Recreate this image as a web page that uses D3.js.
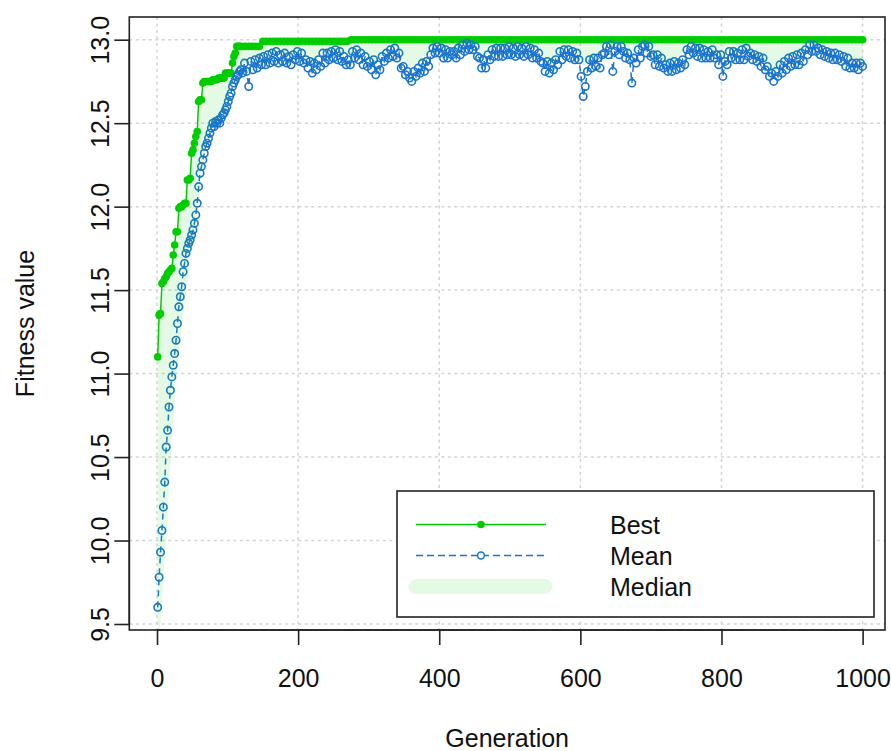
<!DOCTYPE html>
<html>
<head>
<meta charset="utf-8">
<script src="https://cdn.jsdelivr.net/npm/d3@7"></script>
<style>
  body { margin: 0; background: #fff; }
  svg { display: block; }
  text { font-family: "Liberation Sans", Arial, sans-serif; fill: #111; }
</style>
</head>
<body>
<svg id="chart" width="891" height="751"></svg>
<script>
// generations for best / median: every 2nd up to 119, then every 5th
const gens = d3.range(1, 120, 2).concat(d3.range(125, 1001, 5))
// generations for mean: every 2nd up to 119, then every 3rd
const meanGens = d3.range(1, 120, 2).concat(d3.range(121, 1001, 3))

const best = [
  11.10, 11.35, 11.36, 11.54, 11.55, 11.57, 11.58, 11.60, 11.61, 11.62,
  11.63, 11.71, 11.77, 11.85, 11.85, 11.99, 12.00, 12.00, 12.01, 12.02,
  12.02, 12.16, 12.16, 12.17, 12.32, 12.34, 12.38, 12.42, 12.45, 12.63,
  12.64, 12.64, 12.74, 12.75, 12.75, 12.75, 12.75, 12.75, 12.75, 12.76,
  12.76, 12.76, 12.76, 12.77, 12.77, 12.77, 12.77, 12.77, 12.80, 12.80,
  12.80, 12.80, 12.80, 12.86, 12.90, 12.92, 12.96, 12.96, 12.96, 12.96,
  // 125 .. 1000
  12.96, 12.96, 12.96, 12.96, 12.96, 12.99, 12.99, 12.99, 12.99, 12.99,
  12.99, 12.99, 12.99, 12.99, 12.99, 12.99, 12.99, 12.99, 12.99, 12.99,
  12.99, 12.99, 12.99, 12.99, 12.99, 12.99, 12.99, 12.99, 12.99, 12.99,
  13, 13, 13, 13, 13, 13, 13, 13, 13, 13,
  13, 13, 13, 13, 13, 13, 13, 13, 13, 13,
  13, 13, 13, 13, 13, 13, 13, 13, 13, 13,
  13, 13, 13, 13, 13, 13, 13, 13, 13, 13,
  13, 13, 13, 13, 13, 13, 13, 13, 13, 13,
  13, 13, 13, 13, 13, 13, 13, 13, 13, 13,
  13, 13, 13, 13, 13, 13, 13, 13, 13, 13,
  13, 13, 13, 13, 13, 13, 13, 13, 13, 13,
  13, 13, 13, 13, 13, 13, 13, 13, 13, 13,
  13, 13, 13, 13, 13, 13, 13, 13, 13, 13,
  13, 13, 13, 13, 13, 13, 13, 13, 13, 13,
  13, 13, 13, 13, 13, 13, 13, 13, 13, 13,
  13, 13, 13, 13, 13, 13, 13, 13, 13, 13,
  13, 13, 13, 13, 13, 13, 13, 13, 13, 13,
  13, 13, 13, 13, 13, 13
]

const mean = [
  9.60, 9.78, 9.93, 10.06, 10.20, 10.35, 10.56, 10.66, 10.80, 10.90,
  10.98, 11.05, 11.12, 11.20, 11.30, 11.40, 11.46, 11.52, 11.61, 11.66,
  11.72, 11.75, 11.78, 11.80, 11.83, 11.86, 11.90, 11.95, 12.02, 12.12,
  12.20, 12.24, 12.28, 12.32, 12.36, 12.38, 12.41, 12.44, 12.47, 12.50,
  12.48, 12.51, 12.50, 12.52, 12.50, 12.53, 12.55, 12.56, 12.58, 12.60,
  12.63, 12.66, 12.68, 12.72, 12.74, 12.76, 12.78, 12.79, 12.81, 12.82,
  // 121 .. 1000, every 3rd
  12.80, 12.86, 12.81, 12.72, 12.87, 12.82, 12.88, 12.83, 12.89, 12.85,
  12.90, 12.85, 12.91, 12.86, 12.92, 12.87, 12.93, 12.86, 12.91, 12.87,
  12.92, 12.86, 12.90, 12.85, 12.91, 12.88, 12.93, 12.87, 12.92, 12.86,
  12.88, 12.83, 12.87, 12.80, 12.86, 12.82, 12.88, 12.84, 12.92, 12.86,
  12.92, 12.88, 12.93, 12.89, 12.94, 12.88, 12.93, 12.87, 12.90, 12.85,
  12.88, 12.85, 12.93, 12.89, 12.94, 12.88, 12.92, 12.85, 12.90, 12.84,
  12.87, 12.82, 12.88, 12.79, 12.85, 12.82, 12.90, 12.87, 12.92, 12.89,
  12.94, 12.90, 12.95, 12.89, 12.92, 12.83, 12.84, 12.79, 12.81, 12.77,
  12.75, 12.81, 12.78, 12.83, 12.80, 12.86, 12.81, 12.87, 12.84, 12.91,
  12.95, 12.92, 12.96, 12.92, 12.95, 12.89, 12.94, 12.89, 12.93, 12.91,
  12.93, 12.89, 12.95, 12.91, 12.97, 12.93, 12.98, 12.94, 12.97, 12.94,
  12.96, 12.90, 12.89, 12.83, 12.88, 12.83, 12.91, 12.88, 12.94, 12.90,
  12.95, 12.90, 12.95, 12.90, 12.95, 12.91, 12.96, 12.91, 12.95, 12.90,
  12.96, 12.91, 12.95, 12.90, 12.96, 12.91, 12.95, 12.89, 12.94, 12.89,
  12.92, 12.87, 12.86, 12.81, 12.87, 12.80, 12.86, 12.82, 12.88, 12.85,
  12.93, 12.88, 12.94, 12.90, 12.94, 12.89, 12.93, 12.88, 12.92, 12.88,
  12.78, 12.66, 12.72, 12.81, 12.88, 12.83, 12.89, 12.84, 12.89, 12.83,
  12.91, 12.92, 12.96, 12.91, 12.97, 12.81, 12.93, 12.96, 12.91, 12.96,
  12.93, 12.89, 12.92, 12.88, 12.74, 12.89, 12.86, 12.94, 12.89, 12.96,
  12.97, 12.92, 12.96, 12.90, 12.91, 12.85, 12.91, 12.84, 12.89, 12.83,
  12.85, 12.81, 12.86, 12.81, 12.87, 12.82, 12.86, 12.83, 12.88, 12.85,
  12.94, 12.91, 12.96, 12.92, 12.95, 12.90, 12.95, 12.89, 12.94, 12.89,
  12.93, 12.89, 12.94, 12.89, 12.91, 12.85, 12.91, 12.78, 12.87, 12.85,
  12.93, 12.89, 12.93, 12.88, 12.92, 12.88, 12.94, 12.88, 12.95, 12.90,
  12.92, 12.88, 12.91, 12.87, 12.90, 12.84, 12.89, 12.82, 12.84, 12.78,
  12.80, 12.75, 12.81, 12.78, 12.85, 12.80, 12.87, 12.82, 12.89, 12.84,
  12.90, 12.85, 12.91, 12.85, 12.92, 12.87, 12.94, 12.91, 12.97, 12.93,
  12.97, 12.93, 12.95, 12.91, 12.94, 12.90, 12.93, 12.89, 12.92, 12.88,
  12.92, 12.88, 12.91, 12.87, 12.90, 12.84, 12.89, 12.83, 12.86, 12.83,
  12.86, 12.82, 12.86, 12.84
]

const median = [
  9.20, 9.35, 9.50, 9.65, 9.78, 9.90, 10.00, 10.15, 10.30, 10.45,
  10.60, 10.70, 10.84, 10.95, 11.05, 11.12, 11.20, 11.28, 11.35, 11.42,
  11.48, 11.55, 11.62, 11.68, 11.74, 11.80, 11.85, 11.90, 11.96, 12.04,
  12.12, 12.18, 12.24, 12.30, 12.35, 12.38, 12.41, 12.44, 12.47, 12.50,
  12.50, 12.51, 12.52, 12.53, 12.54, 12.55, 12.57, 12.58, 12.60, 12.62,
  12.65, 12.68, 12.71, 12.74, 12.77, 12.79, 12.81, 12.83, 12.84, 12.85,
  // 125 .. 1000
  12.86, 12.87, 12.88, 12.89, 12.90, 12.91, 12.90, 12.92, 12.93, 12.91,
  12.94, 12.93, 12.91, 12.89, 12.92, 12.94, 12.93, 12.91, 12.88, 12.86,
  12.87, 12.90, 12.93, 12.92, 12.94, 12.93, 12.95, 12.93, 12.91, 12.90,
  12.91, 12.94, 12.95, 12.93, 12.91, 12.89, 12.87, 12.86, 12.88, 12.92,
  12.94, 12.96, 12.95, 12.96, 12.93, 12.88, 12.85, 12.84, 12.85, 12.87,
  12.86, 12.89, 12.93, 12.97, 12.98, 12.97, 12.95, 12.94, 12.96, 12.95,
  12.94, 12.97, 12.99, 12.99, 12.99, 12.98, 12.96, 12.91, 12.89, 12.93,
  12.95, 12.96, 12.95, 12.96, 12.97, 12.96, 12.95, 12.97, 12.96, 12.97,
  12.96, 12.95, 12.95, 12.94, 12.93, 12.89, 12.87, 12.86, 12.88, 12.91,
  12.94, 12.95, 12.96, 12.95, 12.93, 12.89, 12.84, 12.86, 12.90, 12.89,
  12.91, 12.95, 12.98, 12.97, 12.95, 12.96, 12.97, 12.96, 12.93, 12.91,
  12.91, 12.94, 12.97, 12.99, 12.98, 12.93, 12.91, 12.89, 12.90, 12.87,
  12.86, 12.88, 12.87, 12.89, 12.93, 12.97, 12.98, 12.97, 12.96, 12.95,
  12.96, 12.94, 12.95, 12.93, 12.91, 12.89, 12.91, 12.94, 12.95, 12.93,
  12.94, 12.96, 12.95, 12.93, 12.94, 12.92, 12.90, 12.88, 12.85, 12.82,
  12.80, 12.83, 12.87, 12.89, 12.90, 12.91, 12.90, 12.92, 12.91, 12.96,
  12.98, 12.99, 12.98, 12.97, 12.95, 12.96, 12.94, 12.95, 12.93, 12.94,
  12.91, 12.89, 12.87, 12.89, 12.88, 12.87
]

const xTicks = [0, 200, 400, 600, 800, 1000]
const yTicks = [9.5, 10.0, 10.5, 11.0, 11.5, 12.0, 12.5, 13.0]
const legendLabels = ['Best', 'Mean', 'Median']

const colBest = '#00CD00'
const colMean = '#1874CD'
const colFill = 'rgba(0,205,0,0.1)'

const box = { left: 129.3, right: 885, top: 17, bottom: 630 }

let svg = d3.select('#chart')

let x = d3.scaleLinear().domain([0, 1000]).range([157, 862.6])
let y = d3.scaleLinear().domain([9.464, 13.136]).range([box.bottom, box.top])

let data = gens.map((g, i) => ({ g: g, best: best[i], median: median[i] }))
let meanData = meanGens.map((g, i) => ({ g: g, mean: mean[i] }))

svg.append('defs').append('clipPath').attr('id', 'plotclip')
    .append('rect')
    .attr('x', box.left).attr('y', box.top)
    .attr('width', box.right - box.left).attr('height', box.bottom - box.top)

// grid
let grid = svg.append('g')
grid.selectAll('.vg').data(xTicks).enter().append('line')
    .attr('x1', d => x(d)).attr('x2', d => x(d))
    .attr('y1', box.top).attr('y2', box.bottom)
grid.selectAll('.hg').data(yTicks).enter().append('line')
    .attr('x1', box.left).attr('x2', box.right)
    .attr('y1', d => y(d)).attr('y2', d => y(d))
grid.selectAll('line')
    .attr('stroke', '#d3d3d3').attr('stroke-width', 1.5).attr('stroke-dasharray', '3,3.5')

let plot = svg.append('g').attr('clip-path', 'url(#plotclip)')

// best
plot.append('path').datum(data)
    .attr('fill', 'none').attr('stroke', colBest).attr('stroke-width', 1.5)
    .attr('d', d3.line().x(d => x(d.g)).y(d => y(d.best)))
plot.selectAll('.bp').data(data).enter().append('circle')
    .attr('cx', d => x(d.g)).attr('cy', d => y(d.best)).attr('r', 3.8)
    .attr('fill', colBest)

// mean
plot.append('path').datum(meanData)
    .attr('fill', 'none').attr('stroke', colMean).attr('stroke-width', 1.5)
    .attr('stroke-dasharray', '6,5')
    .attr('d', d3.line().x(d => x(d.g)).y(d => y(d.mean)))
plot.selectAll('.mp').data(meanData).enter().append('circle')
    .attr('cx', d => x(d.g)).attr('cy', d => y(d.mean)).attr('r', 3.7)
    .attr('fill', 'none').attr('stroke', colMean).attr('stroke-width', 1.6)

// median band (between best and median), drawn on top like R's polygon
plot.append('path').datum(data)
    .attr('fill', colFill).attr('stroke', 'none')
    .attr('d', d3.area().x(d => x(d.g)).y0(d => y(d.median)).y1(d => y(d.best)))

// box
svg.append('rect')
    .attr('x', box.left).attr('y', box.top)
    .attr('width', box.right - box.left).attr('height', box.bottom - box.top)
    .attr('fill', 'none').attr('stroke', '#222').attr('stroke-width', 1.6)

// axes
let xAxis = svg.append('g').attr('transform', `translate(0,${box.bottom})`)
    .call(d3.axisBottom(x).tickValues(xTicks).tickSize(15).tickSizeOuter(0).tickFormat(d3.format('d')))
xAxis.selectAll('text').attr('y', 57).attr('dy', null).style('font-size', '25px')

let yAxis = svg.append('g').attr('transform', `translate(${box.left},0)`)
    .call(d3.axisLeft(y).tickValues(yTicks).tickSize(15).tickSizeOuter(0).tickFormat(d3.format('.1f')))
yAxis.selectAll('text')
    .attr('transform', 'rotate(-90)')
    .attr('x', 0).attr('y', -20).attr('dy', null)
    .attr('text-anchor', 'middle')
    .style('font-size', '25px')

svg.selectAll('.domain').remove()
svg.selectAll('.tick line').attr('stroke', '#222').attr('stroke-width', 1.6)
xAxis.append('line').attr('x1', x(0)).attr('x2', x(1000)).attr('y1', 0).attr('y2', 0)
    .attr('stroke', '#222').attr('stroke-width', 1.6)
yAxis.append('line').attr('y1', y(9.5)).attr('y2', y(13)).attr('x1', 0).attr('x2', 0)
    .attr('stroke', '#222').attr('stroke-width', 1.6)

// axis titles
svg.append('text')
    .attr('x', (box.left + box.right) / 2).attr('y', 747)
    .attr('text-anchor', 'middle').style('font-size', '25px')
    .text('Generation')
svg.append('text')
    .attr('transform', `translate(34,${(box.top + box.bottom) / 2}) rotate(-90)`)
    .attr('text-anchor', 'middle').style('font-size', '25px')
    .text('Fitness value')

// legend
let lg = svg.append('g')
lg.append('rect')
    .attr('x', 397).attr('y', 491).attr('width', 477).attr('height', 126)
    .attr('fill', '#fff').attr('stroke', '#222').attr('stroke-width', 1.6)

let rowY = d3.scalePoint().domain(legendLabels).range([524.5, 586.5])

lg.append('line')
    .attr('x1', 416).attr('x2', 546).attr('y1', rowY('Best')).attr('y2', rowY('Best'))
    .attr('stroke', colBest).attr('stroke-width', 1.5)
lg.append('circle').attr('cx', 481).attr('cy', rowY('Best')).attr('r', 3.8).attr('fill', colBest)

lg.append('line')
    .attr('x1', 416).attr('x2', 546).attr('y1', rowY('Mean')).attr('y2', rowY('Mean'))
    .attr('stroke', colMean).attr('stroke-width', 1.5).attr('stroke-dasharray', '7,4')
lg.append('circle').attr('cx', 481).attr('cy', rowY('Mean')).attr('r', 3.4)
    .attr('fill', '#fff').attr('stroke', colMean).attr('stroke-width', 1.5)

lg.append('line')
    .attr('x1', 416).attr('x2', 545).attr('y1', rowY('Median')).attr('y2', rowY('Median'))
    .attr('stroke', colFill).attr('stroke-width', 15).attr('stroke-linecap', 'round')

lg.selectAll('.lt').data(legendLabels).enter().append('text')
    .attr('x', 610).attr('y', d => rowY(d) + 9)
    .style('font-size', '25px')
    .text(d => d)
</script>
</body>
</html>
